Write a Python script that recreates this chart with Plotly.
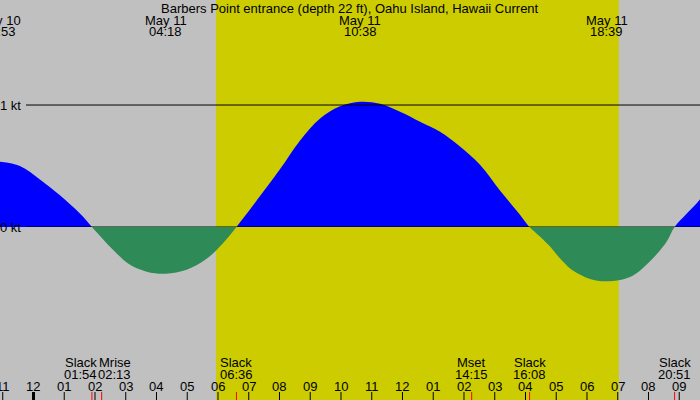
import plotly.graph_objects as go

# hours relative to May 11 00:00 (negative = May 10)
curve_hours = [-1.117, -0.44, 0.21, 0.86, 1.51, 1.90, 2.60, 3.14, 3.68, 4.30,
               4.98, 5.63, 6.17, 6.60, 7.15, 8.02, 8.67, 9.32, 9.97, 10.63,
               11.27, 11.92, 12.57, 13.22, 13.87, 14.52, 15.17, 15.82, 16.13,
               16.47, 16.80, 17.12, 17.45, 17.77, 18.10, 18.65, 19.40, 20.05,
               20.59, 20.85, 21.68, 21.85]
curve_kt = [0.535, 0.50, 0.39, 0.26, 0.11, 0.0, -0.19, -0.31, -0.366, -0.383,
            -0.35, -0.26, -0.13, 0.0, 0.18, 0.475, 0.71, 0.89, 0.99, 1.027,
            1.01, 0.945, 0.863, 0.78, 0.66, 0.51, 0.30, 0.10, 0.0,
            -0.078, -0.16, -0.257, -0.34, -0.39, -0.426, -0.445, -0.41, -0.28,
            -0.12, 0.0, 0.23, 0.31]

peak_days = ["May 10", "May 11", "May 11", "May 11"]
peak_times = ["22:53", "04:18", "10:38", "18:39"]
peak_hours = [-1.117, 4.30, 10.633, 18.65]

event_names = ["Slack", "Mrise", "Slack", "Mset", "Slack", "Slack"]
event_times = ["01:54", "02:13", "06:36", "14:15", "16:08", "20:51"]
event_shift = [-11, 13, 0, 0, 0, 0]

hour_ticks = list(range(-1, 22))
hour_labels = ["11", "12", "01", "02", "03", "04", "05", "06", "07", "08", "09", "10",
               "11", "12", "01", "02", "03", "04", "05", "06", "07", "08", "09"]

sunrise, sunset = "05:56", "19:02"
title = "Barbers Point entrance (depth 22 ft), Oahu Island, Hawaii Current"


def to_h(s):
    h, m = s.split(":")
    return int(h) + int(m) / 60.0


GRAY = "#c0c0c0"
YELLOW = "#cccc00"
BLUE = "#0000ff"
GREEN = "#2e8b57"
FONT = dict(family="Liberation Sans, Arial, sans-serif", size=13, color="black")
X0, X1 = -1.089, 21.675
Y0, Y1 = -1.418, 1.861
PX_PER_H = 700 / (X1 - X0)
ZERO = -Y0 / (Y1 - Y0)  # paper height of the 0 kt line


def py(p):
    # pixel row -> paper y
    return 1 - p / 400.0


fig = go.Figure()

# same curve twice: the flood axis only shows >0, the ebb axis only <0,
# so each fill gets clipped at the slack line without breaking the spline
for ax, col in [("y", BLUE), ("y2", GREEN)]:
    fig.add_trace(go.Scatter(
        x=curve_hours, y=curve_kt, yaxis=ax, mode="lines",
        line=dict(width=0, shape="spline", smoothing=1),
        fill="tozeroy", fillcolor=col, hoverinfo="skip", showlegend=False))

shapes = [
    dict(type="rect", xref="x", yref="paper", x0=to_h(sunrise), x1=to_h(sunset),
         y0=0, y1=1, fillcolor=YELLOW, line_width=0, layer="below"),
]
for v in [0, 1]:
    shapes.append(dict(type="line", xref="paper", yref="y", x0=26 / 700, x1=1, y0=v, y1=v,
                       line=dict(color="black", width=1), layer="above"))
for h in hour_ticks:
    shapes.append(dict(type="line", xref="x", yref="paper", x0=h, x1=h, y0=0, y1=py(392),
                       line=dict(color="black", width=3 if h == 0 else 1), layer="above"))
for t in event_times:
    shapes.append(dict(type="line", xref="x", yref="paper", x0=to_h(t), x1=to_h(t),
                       y0=0, y1=py(392), line=dict(color="red", width=1), layer="above"))

ann = [dict(text=title, x=0.5, xref="paper", y=py(8), yref="paper", showarrow=False,
            yanchor="middle", font=FONT)]
ann.append(dict(text="1 kt", x=0, xref="paper", xanchor="left", y=1, yref="y",
                showarrow=False, font=FONT, xshift=-2))
ann.append(dict(text="0 kt", x=0, xref="paper", xanchor="left", y=0, yref="y",
                showarrow=False, font=FONT, xshift=-2))
for d, t, h in zip(peak_days, peak_times, peak_hours):
    # labels whose time falls left of the view are pinned to the edge and shifted
    hx = max(h, X0 + 1e-6)
    sh = (h - hx) * PX_PER_H
    ann.append(dict(text=d, x=hx, xref="x", y=py(20), yref="paper", showarrow=False,
                    yanchor="middle", xshift=sh, font=FONT))
    ann.append(dict(text=t, x=hx, xref="x", y=py(32), yref="paper", showarrow=False,
                    yanchor="middle", xshift=sh, font=FONT))
for n, t, s in zip(event_names, event_times, event_shift):
    ann.append(dict(text=n, x=to_h(t), xref="x", y=py(362), yref="paper", showarrow=False,
                    yanchor="middle", xshift=s, font=FONT))
    ann.append(dict(text=t, x=to_h(t), xref="x", y=py(374), yref="paper", showarrow=False,
                    yanchor="middle", xshift=s, font=FONT))
for h, lab in zip(hour_ticks, hour_labels):
    ann.append(dict(text=lab, x=h, xref="x", y=py(386), yref="paper", showarrow=False,
                    yanchor="middle", font=FONT))

fig.update_layout(
    width=700, height=400,
    margin=dict(l=0, r=0, t=0, b=0),
    paper_bgcolor=GRAY, plot_bgcolor="rgba(0,0,0,0)",
    xaxis=dict(range=[X0, X1], visible=False, fixedrange=True),
    yaxis=dict(range=[0, Y1], domain=[ZERO, 1], visible=False, fixedrange=True),
    yaxis2=dict(range=[Y0, 0], domain=[0, ZERO], visible=False, fixedrange=True),
    shapes=shapes, annotations=ann, showlegend=False,
)

# page body has a default margin; drop it so the figure sits in the corner
fig.write_html("out.html", config={"displayModeBar": False},
               post_script="document.body.style.margin='0';")
